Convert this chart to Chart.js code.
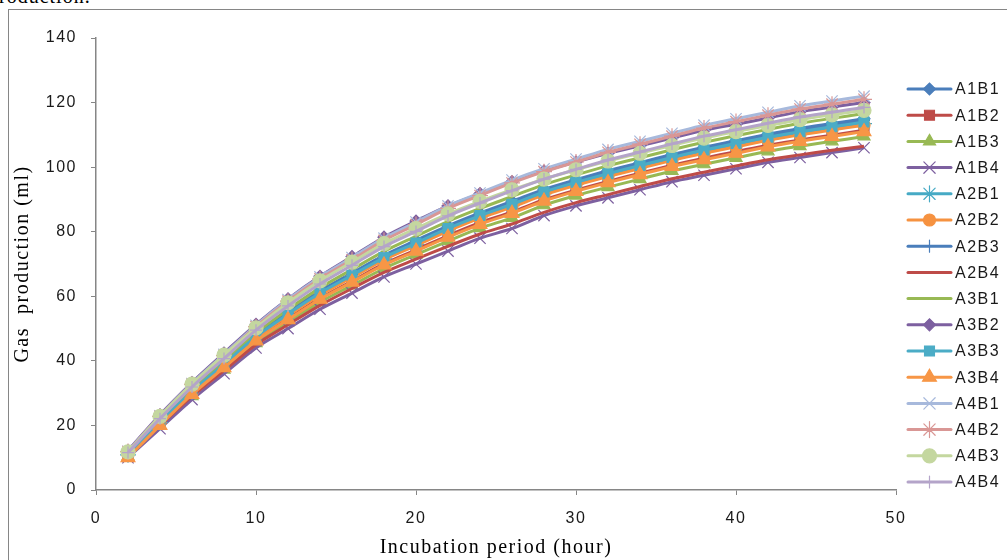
<!DOCTYPE html>
<html>
<head>
<meta charset="utf-8">
<script src="https://cdn.jsdelivr.net/npm/chart.js@4.4.0/dist/chart.umd.min.js"></script>
<style>
  body { margin: 0; background: #fff; overflow: hidden; }
  #wrap { position: relative; width: 1007px; height: 560px; }
  #frame { position: absolute; left: 8px; top: 9px; width: 1010px; height: 600px; border: 1.5px solid #868686; box-sizing: border-box; }
  #above { position: absolute; left: -12px; top: -15px; font: 20px "Liberation Serif", serif; color: #000; letter-spacing: 1px; }
  canvas { position: absolute; left: 0; top: 0; }
</style>
</head>
<body>
<div id="wrap">
  <div id="above">production.</div>
  <div id="frame"></div>
  <canvas id="gasChart" width="1007" height="560"></canvas>
</div>
<script>
const hours = [2, 4, 6, 8, 10, 12, 14, 16, 18, 20, 22, 24, 26, 28, 30, 32, 34, 36, 38, 40, 42, 44, 46, 48];

const A1B1 = [11.1, 21.2, 30.8, 39.4, 47.9, 55, 61.6, 67.2, 72.7, 77.3, 81.8, 85.8, 89.4, 93.1, 96.1, 98.9, 101.4, 103.9, 106.2, 108.2, 110.2, 112, 113.5, 115];
const A1B2 = [10.7, 20.4, 29.7, 38, 46.4, 53.1, 59.4, 64.7, 70.1, 74.4, 78.8, 82.8, 86.1, 89.9, 92.9, 95.6, 98.1, 100.6, 102.8, 104.8, 106.8, 108.4, 109.9, 111.4];
const A1B3 = [10.4, 19.9, 29.1, 37.3, 45.5, 52, 58.2, 63.4, 68.6, 72.9, 77.1, 81.1, 84.3, 88.2, 91.2, 93.8, 96.3, 98.8, 100.9, 102.9, 104.9, 106.5, 108, 109.5];
const A1B4 = [10, 19, 28, 36, 44, 50, 56, 61, 66, 70, 74, 78, 81, 85, 88, 90.5, 93, 95.5, 97.5, 99.5, 101.5, 103, 104.5, 106];
const A2B1 = [10.9, 20.9, 30.4, 38.8, 47.3, 54.2, 60.7, 66.2, 71.6, 76.1, 80.6, 84.6, 88.1, 91.8, 94.8, 97.6, 100.1, 102.6, 104.8, 106.8, 108.8, 110.5, 112, 113.5];
const A2B2 = [10.9, 20.8, 30.2, 38.6, 47.1, 54, 60.4, 65.8, 71.3, 75.7, 80.2, 84.2, 87.6, 91.4, 94.4, 97.1, 99.6, 102.1, 104.3, 106.3, 108.3, 110, 111.5, 113];
const A2B3 = [11.1, 21.1, 30.7, 39.2, 47.7, 54.8, 61.3, 66.8, 72.4, 76.9, 81.4, 85.4, 89, 92.7, 95.7, 98.5, 101, 103.5, 105.7, 107.7, 109.7, 111.5, 113, 114.5];
const A2B4 = [10.5, 20, 29, 37, 45, 51.2, 57.2, 62.4, 67.4, 71.5, 75.5, 79.3, 82.4, 86, 89, 91.5, 94, 96.4, 98.4, 100.4, 102.3, 103.8, 105.2, 106.5];
const A3B1 = [11.3, 21.6, 31.3, 40, 48.6, 55.9, 62.6, 68.3, 73.9, 78.6, 83.2, 87.2, 90.9, 94.6, 97.6, 100.4, 102.9, 105.4, 107.7, 109.7, 111.7, 113.6, 115.1, 116.6];
const A3B2 = [12.2, 23.3, 33.3, 42.4, 51.3, 59.2, 66.2, 72.3, 78.3, 83.3, 88, 91.8, 95.5, 98.8, 101.6, 104.3, 106.6, 109, 111.4, 113.3, 115.2, 117.2, 118.6, 120];
const A3B3 = [11, 21, 30.5, 39, 47.5, 54.5, 61, 66.5, 72, 76.5, 81, 85, 88.5, 92.3, 95.3, 98, 100.5, 103, 105.3, 107.3, 109.3, 111, 112.5, 114];
const A3B4 = [10, 20, 29.6, 37.9, 46.2, 52.8, 59.1, 64.4, 69.7, 74, 78.3, 82.3, 85.7, 89.5, 92.5, 95.2, 97.7, 100.2, 102.3, 104.3, 106.3, 108, 109.5, 111];
const A4B1 = [12, 23, 33, 42, 51, 59, 66, 72, 78, 83, 88, 92, 96, 99.5, 102.5, 105.5, 108, 110.5, 113, 115, 117, 119, 120.5, 122];
const A4B2 = [11.9, 22.8, 32.7, 41.6, 50.6, 58.5, 65.4, 71.3, 77.3, 82.2, 87.2, 91.2, 95.1, 98.6, 101.6, 104.6, 107.1, 109.6, 112.1, 114.1, 116.1, 118, 119.5, 121];
const A4B3 = [11.8, 22.8, 32.8, 41.8, 50.2, 58, 64.8, 70.6, 76.3, 81, 85.5, 89.4, 93, 96.3, 99.2, 101.9, 104.3, 106.7, 109, 111, 112.9, 114.7, 116.2, 117.6];
const A4B4 = [11.6, 22.1, 31.9, 40.7, 49.5, 57, 63.8, 69.6, 75.4, 80.1, 84.9, 88.9, 92.7, 96.3, 99.3, 102.2, 104.7, 107.2, 109.6, 111.6, 113.6, 115.5, 117, 118.5];

const seriesNames = ['A1B1', 'A1B2', 'A1B3', 'A1B4', 'A2B1', 'A2B2', 'A2B3', 'A2B4',
                     'A3B1', 'A3B2', 'A3B3', 'A3B4', 'A4B1', 'A4B2', 'A4B3', 'A4B4'];
const seriesValues = [A1B1, A1B2, A1B3, A1B4, A2B1, A2B2, A2B3, A2B4,
                      A3B1, A3B2, A3B3, A3B4, A4B1, A4B2, A4B3, A4B4];

// colour, marker, marker radius
const styles = [
    ['#4A7EBB', 'rectRot', 6],
    ['#BE4B48', 'rect', 7],
    ['#98B954', 'triangle', 7],
    ['#7D60A0', 'crossRot', 8],
    ['#46AAC5', 'star', 8],
    ['#F69240', 'circle', 6],
    ['#4A7EBB', 'cross', 6],
    ['#BE4B48', false, 0],
    ['#98B954', false, 0],
    ['#7D60A0', 'rectRot', 6],
    ['#4BACC6', 'rect', 7],
    ['#F79646', 'triangle', 8],
    ['#A7B9DC', 'crossRot', 8],
    ['#D99795', 'star', 8],
    ['#C4D79F', 'circle', 7],
    ['#B4A4C9', 'cross', 6]
];

const SPACING = '1.5px';
const textFont = '"Liberation Sans", Arial, sans-serif';

const spacingPlugin = {
    id: 'spacing',
    beforeLayout(chart) { chart.ctx.letterSpacing = SPACING; },
    beforeDraw(chart) { chart.ctx.letterSpacing = SPACING; }
};

const sideLegend = {
    id: 'sideLegend',
    afterDraw(chart) {
        const ctx = chart.ctx;
        ctx.save();
        ctx.letterSpacing = SPACING;
        chart.data.datasets.forEach((ds, i) => {
            const y = 89 + i * 26.2;
            ctx.strokeStyle = ds.borderColor;
            ctx.lineWidth = 3;
            ctx.lineCap = 'round';
            ctx.beginPath();
            ctx.moveTo(908, y);
            ctx.lineTo(951, y);
            ctx.stroke();
            if (ds.pointStyle) {
                ctx.fillStyle = ds.borderColor;
                ctx.lineWidth = 1.2;
                Chart.helpers.drawPoint(ctx, {
                    pointStyle: ds.pointStyle,
                    radius: ds.pointRadius,
                    borderWidth: 1.2,
                    rotation: 0
                }, 929.5, y);
            }
            ctx.fillStyle = '#1a1a1a';
            ctx.font = '16px ' + textFont;
            ctx.textBaseline = 'middle';
            ctx.textAlign = 'left';
            ctx.fillText(ds.label, 955, y + 1);
        });
        ctx.restore();
    }
};

const datasets = seriesNames.map((name, i) => ({
    label: name,
    data: seriesValues[i],
    borderColor: styles[i][0],
    backgroundColor: styles[i][0],
    pointStyle: styles[i][1],
    pointRadius: styles[i][2],
    pointHoverRadius: styles[i][2],
    pointBorderWidth: 1.2,
    borderWidth: 3,
    tension: 0.3,
    order: -i
}));

const ctx = document.getElementById('gasChart').getContext('2d');
new Chart(ctx, {
    type: 'line',
    data: { labels: hours, datasets: datasets },
    options: {
        responsive: false,
        animation: false,
        layout: { padding: { left: 0, right: 111, top: 38, bottom: 0 } },
        plugins: { legend: { display: false }, tooltip: { enabled: false } },
        scales: {
            x: {
                type: 'linear',
                min: 0, max: 50,
                ticks: { stepSize: 10, color: '#1a1a1a', padding: 14, font: { family: textFont, size: 16 } },
                grid: { drawOnChartArea: false, drawTicks: true, tickLength: 5, color: '#868686' },
                border: { display: true, color: '#868686', width: 1.5 },
                title: {
                    display: true, text: 'Incubation period (hour)', color: '#000',
                    padding: { top: 0, bottom: 0 },
                    font: { family: '"Liberation Serif", serif', size: 20 }
                },
                afterFit(scale) { scale.height = 70; }
            },
            y: {
                min: 0, max: 140,
                ticks: { stepSize: 20, color: '#1a1a1a', padding: 14, font: { family: textFont, size: 16 } },
                grid: { drawOnChartArea: false, drawTicks: true, tickLength: 5, color: '#868686' },
                border: { display: true, color: '#868686', width: 1.5 },
                title: {
                    display: true, text: 'Gas  production (ml)', color: '#000',
                    padding: { top: 11, bottom: 0 },
                    font: { family: '"Liberation Serif", serif', size: 20 }
                },
                afterFit(scale) { scale.width = 96; }
            }
        }
    },
    plugins: [spacingPlugin, sideLegend]
});
</script>
</body>
</html>
